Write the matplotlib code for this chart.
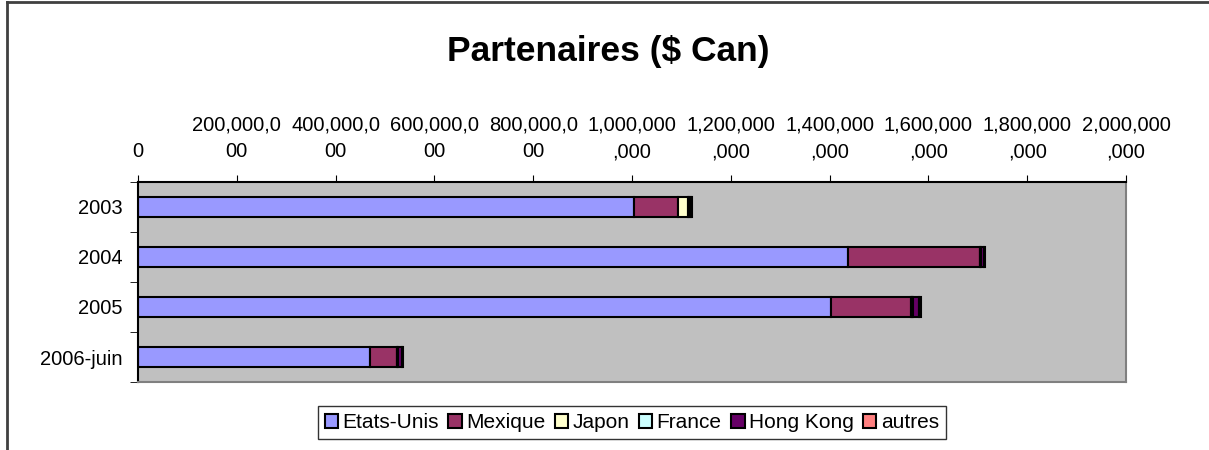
import numpy as np
import matplotlib
matplotlib.use('Agg')
from matplotlib import pyplot as plt
from matplotlib.lines import Line2D

plt.rcParams['font.family'] = ['Liberation Sans', 'DejaVu Sans']

years = ['2003', '2004', '2005', '2006-juin']
partners = ['Etats-Unis', 'Mexique', 'Japon', 'France', 'Hong Kong', 'autres']
colors = ['#9999FF', '#993366', '#FFFFCC', '#CCFFFF', '#660066', '#FF8080']

etats_unis = [1004000, 1437000, 1403000, 470000]
mexique = [89000, 267000, 162000, 54000]
japon = [20000, 1000, 2000, 1000]
france = [2000, 1000, 1000, 500]
hong_kong = [5000, 6000, 14000, 9000]
autres = [2000, 3000, 3000, 1500]

xticks = [0, 200000, 400000, 600000, 800000, 1000000, 1200000, 1400000, 1600000, 1800000, 2000000]
xlabels = ['0', '200,000,0\n00', '400,000,0\n00', '600,000,0\n00', '800,000,0\n00',
           '1,000,000\n,000', '1,200,000\n,000', '1,400,000\n,000', '1,600,000\n,000',
           '1,800,000\n,000', '2,000,000\n,000']

series = [etats_unis, mexique, japon, france, hong_kong, autres]

fig = plt.figure(figsize=(12.09, 4.5), dpi=100)
ax = fig.add_axes([0.1141, 0.1511, 0.8172, 0.4445])
ax.set_facecolor('#C0C0C0')

y = np.arange(len(years))
left = np.zeros(len(years))
for name, vals, c in zip(partners, series, colors):
    ax.barh(y, vals, left=left, height=0.4, color=c, edgecolor='black',
            linewidth=1.5, label=name)
    left += np.array(vals)

ax.set_xlim(0, 2000000)
ax.set_ylim(len(years) - 0.5, -0.5)
ax.xaxis.tick_top()
ax.set_xticks(xticks)
ax.set_xticklabels(xlabels, linespacing=1.5, va='bottom')
ax.tick_params(axis='x', direction='out', length=5, pad=10, labelsize=14.5)
ax.set_yticks(y)
ax.set_yticklabels(years)
ax.tick_params(axis='y', length=0, pad=11, labelsize=14.5)
ax.set_yticks(np.arange(len(years) + 1) - 0.5, minor=True)
ax.tick_params(axis='y', which='minor', direction='out', length=6)

ax.spines['top'].set_color('black')
ax.spines['left'].set_color('black')
ax.spines['right'].set_color('#808080')
ax.spines['bottom'].set_color('#808080')
for s in ax.spines.values():
    s.set_linewidth(1.5)

fig.text(0.503, 0.885, 'Partenaires ($ Can)', ha='center', va='center',
         fontsize=25.5, fontweight='bold')

leg = fig.legend(loc='center', bbox_to_anchor=(0.5226, 0.0611), ncol=6, fontsize=15,
                 frameon=True, fancybox=False, edgecolor='black', handlelength=0.65,
                 handleheight=0.65, handletextpad=0.2, columnspacing=0.45,
                 borderpad=0.35)
leg.get_frame().set_linewidth(1.0)

fig.add_artist(Line2D([7 / 1209, 1], [1 - 1.5 / 450, 1 - 1.5 / 450],
                      transform=fig.transFigure, color='#404040', linewidth=2))
fig.add_artist(Line2D([7 / 1209, 7 / 1209], [0, 1 - 1.5 / 450],
                      transform=fig.transFigure, color='#404040', linewidth=2))

fig.savefig('out.png', dpi=100)
